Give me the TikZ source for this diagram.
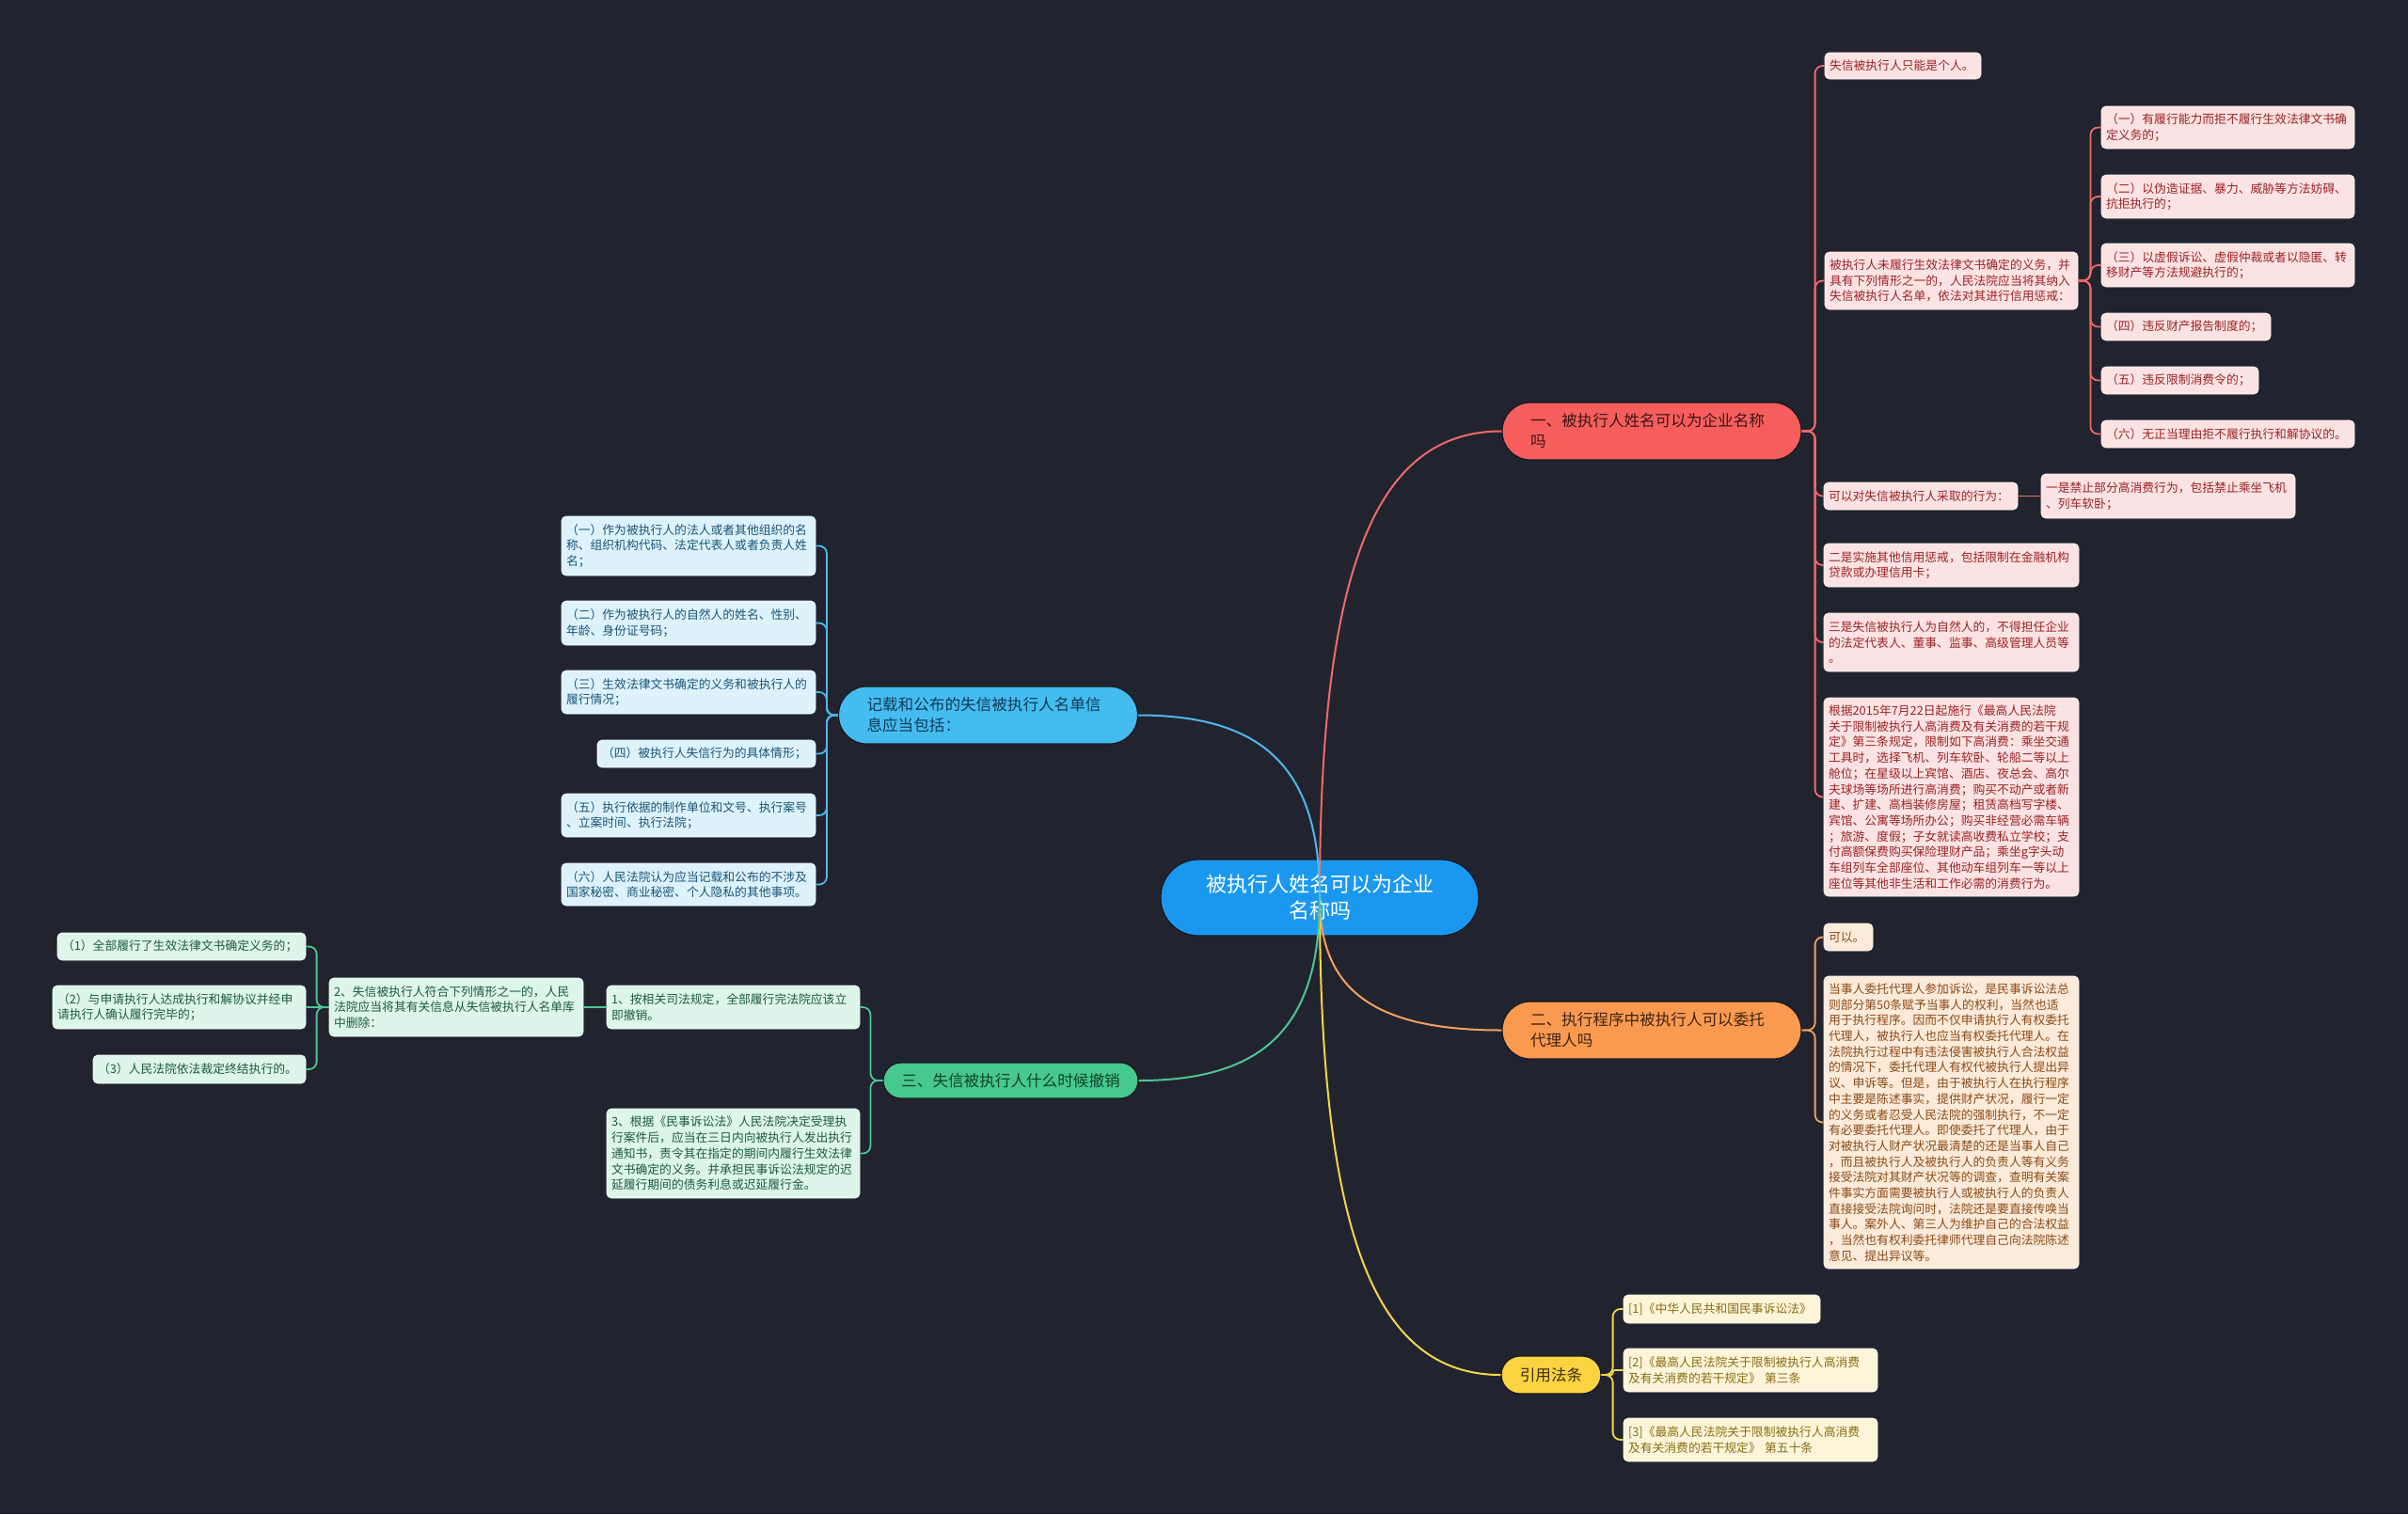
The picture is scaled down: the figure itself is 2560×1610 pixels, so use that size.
\documentclass[tikz,border=0pt]{standalone}
\usepackage{fontspec}
\setmainfont{Noto Sans CJK SC}
\usetikzlibrary{calc}
\definecolor{bgc}{HTML}{21242F}
\definecolor{edgec}{HTML}{16181F}
\definecolor{centerf}{HTML}{1A98F0}
\definecolor{redf}{HTML}{F65E5E}
\definecolor{redt}{HTML}{3D1414}
\definecolor{redl}{HTML}{F06A6A}
\definecolor{redlf}{HTML}{FCE3E3}
\definecolor{redlt}{HTML}{9B2226}
\definecolor{orf}{HTML}{FA9A50}
\definecolor{ort}{HTML}{3F2410}
\definecolor{orl}{HTML}{F5A060}
\definecolor{orlf}{HTML}{FCEADA}
\definecolor{orlt}{HTML}{8B4A16}
\definecolor{yef}{HTML}{F9D340}
\definecolor{yet}{HTML}{3A2F08}
\definecolor{yel}{HTML}{F5D54A}
\definecolor{yelf}{HTML}{FCF5DA}
\definecolor{yelt}{HTML}{8A6D12}
\definecolor{blf}{HTML}{45BCF0}
\definecolor{blt}{HTML}{0F3A55}
\definecolor{bll}{HTML}{4FB8EA}
\definecolor{bllf}{HTML}{DDF2FB}
\definecolor{bllt}{HTML}{1A5578}
\definecolor{grf}{HTML}{46C88E}
\definecolor{grt}{HTML}{12412B}
\definecolor{grl}{HTML}{4FC592}
\definecolor{grlf}{HTML}{DDF5EA}
\definecolor{grlt}{HTML}{1D5B3E}
\begin{document}
\begin{tikzpicture}[x=1pt,y=-1pt,
  leaf/.style={rounded corners=5pt, inner xsep=5pt, inner ysep=0pt, align=left,
    font=\fontsize{12.8}{16.7}\selectfont, line width=0.8pt},
  leafR/.style={leaf, fill=redlf, draw=white!60!redlf, text=redlt},
  leafO/.style={leaf, fill=orlf, draw=white!60!orlf, text=orlt},
  leafY/.style={leaf, fill=yelf, draw=white!60!yelf, text=yelt},
  leafB/.style={leaf, fill=bllf, draw=white!60!bllf, text=bllt},
  leafG/.style={leaf, fill=grlf, draw=white!60!grlf, text=grlt},
  mainbox/.style={inner ysep=0pt, draw=edgec, line width=1.2pt,
    font=\fontsize{16.6}{22}\selectfont},
  mainwide/.style={mainbox, inner xsep=30pt, text width=258pt, align=left,
    minimum height=61pt, rounded corners=30pt},
  conn/.style={line width=1.8pt, rounded corners=8pt},
  mc/.style={line width=2pt, to path={.. controls ($(\tikztostart)!0.7!(\tikztostart|-\tikztotarget)$) and ($(\tikztostart|-\tikztotarget)!0.3!(\tikztotarget)$) .. (\tikztotarget)}}
]
\fill[bgc] (0,0) rectangle (2560,1610);
\useasboundingbox (0,0) rectangle (2560,1610);

% central and main nodes
\node[mainbox, fill=centerf, text=white, align=center, minimum width=338pt, minimum height=81pt,
  rounded corners=40pt, font=\fontsize{22}{28}\selectfont] (c) at (1403,954.5) {被执行人姓名可以为企业\\名称吗};
\node[mainwide, fill=redf, text=redt] (rm) at (1756,458.5) {一、被执行人姓名可以为企业名称\\吗};
\node[mainwide, fill=orf, text=ort] (om) at (1756,1095.5) {二、执行程序中被执行人可以委托\\代理人吗};
\node[mainwide, fill=blf, text=blt] (bm) at (1050.5,760.5) {记载和公布的失信被执行人名单信\\息应当包括：};
\node[mainbox, fill=grf, text=grt, align=center, inner xsep=0pt, minimum width=271pt, minimum height=38pt,
  rounded corners=19pt] (gm) at (1074.5,1149) {三、失信被执行人什么时候撤销};
\node[mainbox, fill=yef, text=yet, align=center, inner xsep=0pt, minimum width=106pt, minimum height=40pt,
  rounded corners=20pt] (ym) at (1649,1462) {引用法条};

% red leaves
\node[leafR, text width=156pt, minimum height=28pt] (r1) at (2023,70) {失信被执行人只能是个人。};
\node[leafR, text width=259pt, minimum height=61pt] (r2) at (2074.5,298.5) {被执行人未履行生效法律文书确定的义务，并\\具有下列情形之一的，人民法院应当将其纳入\\失信被执行人名单，依法对其进行信用惩戒：};
\node[leafR, text width=259pt, minimum height=45pt] (r2a) at (2368.5,135.5) {（一）有履行能力而拒不履行生效法律文书确\\定义务的；};
\node[leafR, text width=259pt, minimum height=46pt] (r2b) at (2368.5,209) {（二）以伪造证据、暴力、威胁等方法妨碍、\\抗拒执行的；};
\node[leafR, text width=259pt, minimum height=46pt] (r2c) at (2368.5,282) {（三）以虚假诉讼、虚假仲裁或者以隐匿、转\\移财产等方法规避执行的；};
\node[leafR, text width=170pt, minimum height=29pt] (r2d) at (2324,347.5) {（四）违反财产报告制度的；};
\node[leafR, text width=157pt, minimum height=29pt] (r2e) at (2317.5,404.5) {（五）违反限制消费令的；};
\node[leafR, text width=259pt, minimum height=29pt] (r2f) at (2368.5,461.5) {（六）无正当理由拒不履行执行和解协议的。};
\node[leafR, text width=196pt, minimum height=29pt] (r3) at (2042,527.5) {可以对失信被执行人采取的行为：};
\node[leafR, text width=260pt, minimum height=47pt] (r3a) at (2305,527.5) {一是禁止部分高消费行为，包括禁止乘坐飞机\\、列车软卧；};
\node[leafR, text width=261pt, minimum height=46pt] (r4) at (2074.5,601) {二是实施其他信用惩戒，包括限制在金融机构\\贷款或办理信用卡；};
\node[leafR, text width=261pt, minimum height=62pt] (r5) at (2074.5,683) {三是失信被执行人为自然人的，不得担任企业\\的法定代表人、董事、监事、高级管理人员等\\。};
\node[leafR, text width=261pt, minimum height=211pt] (r6) at (2074.5,847.5) {根据2015年7月22日起施行《最高人民法院\\关于限制被执行人高消费及有关消费的若干规\\定》第三条规定，限制如下高消费：乘坐交通\\工具时，选择飞机、列车软卧、轮船二等以上\\舱位；在星级以上宾馆、酒店、夜总会、高尔\\夫球场等场所进行高消费；购买不动产或者新\\建、扩建、高档装修房屋；租赁高档写字楼、\\宾馆、公寓等场所办公；购买非经营必需车辆\\；旅游、度假；子女就读高收费私立学校；支\\付高额保费购买保险理财产品；乘坐g字头动\\车组列车全部座位、其他动车组列车一等以上\\座位等其他非生活和工作必需的消费行为。};

% orange leaves
\node[leafO, text width=42pt, minimum height=29pt] (o1) at (1965,996.5) {可以。};
\node[leafO, text width=261pt, minimum height=311pt] (o2) at (2074.5,1193.5) {当事人委托代理人参加诉讼，是民事诉讼法总\\则部分第50条赋予当事人的权利，当然也适\\用于执行程序。因而不仅申请执行人有权委托\\代理人，被执行人也应当有权委托代理人。在\\法院执行过程中有违法侵害被执行人合法权益\\的情况下，委托代理人有权代被执行人提出异\\议、申诉等。但是，由于被执行人在执行程序\\中主要是陈述事实，提供财产状况，履行一定\\的义务或者忍受人民法院的强制执行，不一定\\有必要委托代理人。即使委托了代理人，由于\\对被执行人财产状况最清楚的还是当事人自己\\，而且被执行人及被执行人的负责人等有义务\\接受法院对其财产状况等的调查，查明有关案\\件事实方面需要被执行人或被执行人的负责人\\直接接受法院询问时，法院还是要直接传唤当\\事人。案外人、第三人为维护自己的合法权益\\，当然也有权利委托律师代理自己向法院陈述\\意见、提出异议等。};

% yellow leaves
\node[leafY, text width=199pt, minimum height=30pt] (y1) at (1830.5,1392) {[1]《中华人民共和国民事诉讼法》};
\node[leafY, text width=260pt, minimum height=46pt] (y2) at (1861,1457) {[2]《最高人民法院关于限制被执行人高消费\\及有关消费的若干规定》 第三条};
\node[leafY, text width=260pt, minimum height=46pt] (y3) at (1861,1531) {[3]《最高人民法院关于限制被执行人高消费\\及有关消费的若干规定》 第五十条};

% blue leaves
\node[leafB, text width=260pt, minimum height=63pt] (b1) at (732,580.5) {（一）作为被执行人的法人或者其他组织的名\\称、组织机构代码、法定代表人或者负责人姓\\名；};
\node[leafB, text width=260pt, minimum height=47pt] (b2) at (732,662.5) {（二）作为被执行人的自然人的姓名、性别、\\年龄、身份证号码；};
\node[leafB, text width=260pt, minimum height=46pt] (b3) at (732,736) {（三）生效法律文书确定的义务和被执行人的\\履行情况；};
\node[leafB, text width=222pt, minimum height=29pt] (b4) at (751,801.5) {（四）被执行人失信行为的具体情形；};
\node[leafB, text width=260pt, minimum height=46pt] (b5) at (732,867) {（五）执行依据的制作单位和文号、执行案号\\、立案时间、执行法院；};
\node[leafB, text width=260pt, minimum height=45pt] (b6) at (732,940.5) {（六）人民法院认为应当记载和公布的不涉及\\国家秘密、商业秘密、个人隐私的其他事项。};

% green leaves
\node[leafG, text width=259pt, minimum height=46pt] (g1) at (779.5,1071) {1、按相关司法规定，全部履行完法院应该立\\即撤销。};
\node[leafG, text width=259pt, minimum height=95pt] (g3) at (779.5,1226.5) {3、根据《民事诉讼法》人民法院决定受理执\\行案件后，应当在三日内向被执行人发出执行\\通知书，责令其在指定的期间内履行生效法律\\文书确定的义务。并承担民事诉讼法规定的迟\\延履行期间的债务利息或迟延履行金。};
\node[leafG, text width=260pt, minimum height=62pt] (g2) at (485,1071) {2、失信被执行人符合下列情形之一的，人民\\法院应当将其有关信息从失信被执行人名单库\\中删除：};
\node[leafG, text width=254pt, minimum height=29pt] (g2a) at (193,1006.5) {（1）全部履行了生效法律文书确定义务的；};
\node[leafG, text width=259pt, minimum height=46pt] (g2b) at (190.5,1071) {（2）与申请执行人达成执行和解协议并经申\\请执行人确认履行完毕的；};
\node[leafG, text width=216pt, minimum height=30pt] (g2c) at (212,1137) {（3）人民法院依法裁定终结执行的。};

% connectors from centre
\draw[mc, redl] (c.center) to (rm.west);
\draw[mc, orl] (c.center) to (om.west);
\draw[mc, yel] (c.center) to (ym.west);
\draw[mc, bll] (c.center) to (bm.east);
\draw[mc, grl] (c.center) to (gm.east);

% red branch
\foreach \n in {r1,r2,r3,r4,r5,r6} \draw[conn, redl] (rm.east) -- ++(14,0) |- (\n.west);
\foreach \n in {r2a,r2b,r2c,r2d,r2e,r2f} \draw[conn, redl] (r2.east) -- ++(13,0) |- (\n.west);
\draw[conn, redl] (r3.east) -- (r3a.west);

% orange branch
\foreach \n in {o1,o2} \draw[conn, orl] (om.east) -- ++(14,0) |- (\n.west);

% yellow branch
\draw[conn, yel] (ym.east) -- ++(12,0) |- (y1.west);
\draw[conn, yel, rounded corners=2pt] (ym.east) -- ++(12,0) |- (y2.west);
\draw[conn, yel] (ym.east) -- ++(12,0) |- (y3.west);

% blue branch
\foreach \n in {b1,b2,b3,b4,b5,b6} \draw[conn, bll] (bm.west) -- ++(-12,0) |- (\n.east);

% green branch
\foreach \n in {g1,g3} \draw[conn, grl] (gm.west) -- ++(-13,0) |- (\n.east);
\draw[conn, grl] (g1.west) -- (g2.east);
\draw[conn, grl] (g2.west) -- ++(-13,0) |- (g2a.east);
\draw[conn, grl] (g2.west) -- (g2b.east);
\draw[conn, grl] (g2.west) -- ++(-13,0) |- (g2c.east);
\end{tikzpicture}
\end{document}
